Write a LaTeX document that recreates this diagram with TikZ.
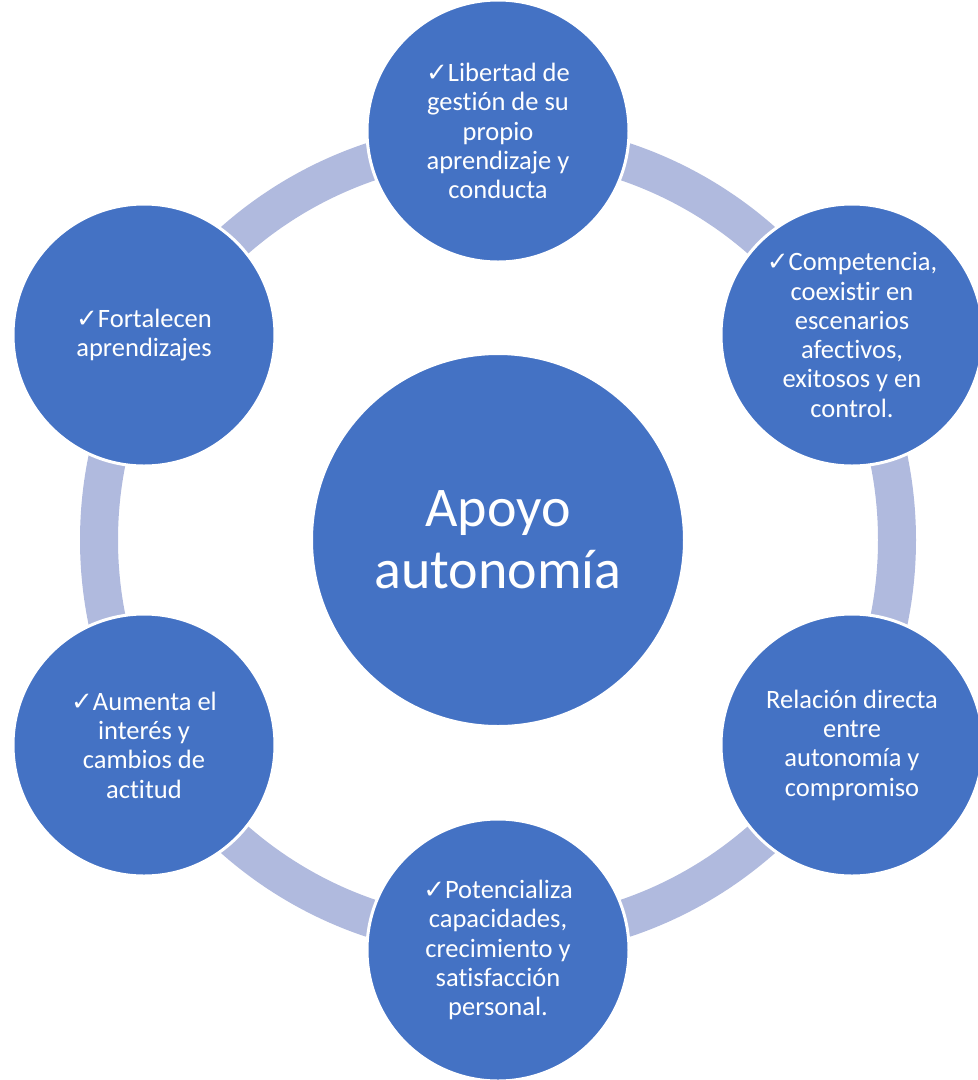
\documentclass[tikz,border=0pt]{standalone}
\usepackage{fontspec}
\setmainfont{Carlito}[Ligatures=NoCommon]
\newfontfamily\chkfont{DejaVu Sans}
\definecolor{nodeblue}{HTML}{4472C4}
\definecolor{ringblue}{RGB}{176,186,222}
\newcommand{\chk}{{\chkfont\fontsize{26}{26}\selectfont ✓}}
\begin{document}
\begin{tikzpicture}[x=1pt,y=1pt,
  sat/.style={circle, fill=nodeblue, draw=white, line width=3pt, minimum size=262pt, inner sep=0pt,
    text=white, align=center, font=\fontsize{26.5}{29.3}\selectfont},
  hub/.style={circle, fill=nodeblue, draw=white, line width=2pt, minimum size=372pt, inner sep=0pt,
    text=white, align=center, font=\fontsize{56}{62}\selectfont},
  ringline/.style={draw=ringblue, line width=38pt}]
\useasboundingbox (0,0) rectangle (978,-1080);
\clip (0,0) rectangle (978,-1080);
\coordinate (c) at (498,-540);
\draw[ringline] (c) circle[radius=399pt];
\node[hub] (hub) at (c) {Apoyo\\autonomía};
\node[sat] (s1) at (498,-131) {\chk Libertad de\\gestión de su\\propio\\aprendizaje y\\conducta};
\node[sat] (s2) at (852,-335) {\chk Competencia,\\coexistir en\\escenarios\\afectivos,\\exitosos y en\\control.};
\node[sat] (s3) at (852,-745) {Relación directa\\entre\\autonomía y\\compromiso};
\node[sat] (s4) at (498,-950) {\chk Potencializa\\capacidades,\\crecimiento y\\satisfacción\\personal.};
\node[sat] (s5) at (144,-745) {\chk Aumenta el\\interés y\\cambios de\\actitud};
\node[sat] (s6) at (144,-335) {\chk Fortalecen\\aprendizajes};
\end{tikzpicture}
\end{document}
